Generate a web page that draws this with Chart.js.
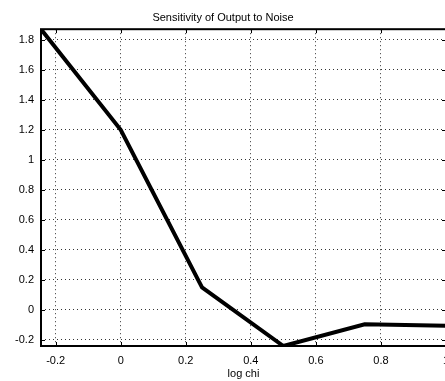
<!DOCTYPE html>
<html>
<head>
<meta charset="utf-8">
<script src="https://cdn.jsdelivr.net/npm/chart.js@4/dist/chart.umd.min.js"></script>
<style>
  html, body { margin: 0; padding: 0; background: #fff; overflow: hidden; }
  #wrap { width: 445px; height: 381px; overflow: hidden; }
</style>
</head>
<body>
<div id="wrap"><canvas id="myChart" width="470" height="381"></canvas></div>
<script>
// values
const logChi = [-0.245, 0, 0.25, 0.5, 0.75, 1.0];
const sensitivity = [1.87, 1.2, 0.15, -0.24, -0.095, -0.105];

const xMin = -0.245, xMax = 1.0;
const yMin = -0.24, yMax = 1.87;

const fontFam = "'Liberation Sans', Arial, sans-serif";

// matlab style inward ticks + box around the axes
const boxTicks = {
  id: "boxTicks",
  afterDraw(chart) {
    const c = chart.ctx, a = chart.chartArea;
    const xs = chart.scales.x, ys = chart.scales.y;
    c.save();
    c.strokeStyle = "#000";
    c.lineWidth = 1;
    c.beginPath();
    xs.ticks.forEach((t) => {
      const px = Math.round(xs.getPixelForValue(t.value)) + 0.5;
      c.moveTo(px, a.bottom); c.lineTo(px, a.bottom - 4);
      c.moveTo(px, a.top); c.lineTo(px, a.top + 4);
    });
    ys.ticks.forEach((t) => {
      const py = Math.round(ys.getPixelForValue(t.value)) + 0.5;
      c.moveTo(a.left, py); c.lineTo(a.left + 4, py);
      c.moveTo(a.right, py); c.lineTo(a.right - 4, py);
    });
    c.stroke();
    c.lineWidth = 2;
    c.strokeRect(a.left, a.top, a.right - a.left, a.bottom - a.top);
    c.restore();
  },
};

const ctx = document.getElementById("myChart").getContext("2d");
const myChart = new Chart(ctx, {
  type: "line",
  data: {
    datasets: [
      {
        label: "Sensitivity",
        data: logChi.map((x, i) => ({ x: x, y: sensitivity[i] })),
        borderColor: "#000",
        borderWidth: 4,
        pointRadius: 0,
        tension: 0,
        fill: false,
      },
    ],
  },
  options: {
    responsive: false,
    animation: false,
    layout: { padding: { left: 0, right: 24, top: 0, bottom: 0 } },
    plugins: {
      legend: { display: false },
      tooltip: { enabled: false },
      title: {
        display: true,
        text: "Sensitivity of Output to Noise",
        color: "#000",
        font: { family: fontFam, size: 11, weight: "normal" },
        padding: { top: 11, bottom: 5 },
      },
    },
    scales: {
      x: {
        type: "linear",
        min: xMin,
        max: xMax,
        afterFit: (s) => { s.height = 35; },
        grid: {
          color: "#333",
          lineWidth: 1,
          tickLength: 0,
          drawTicks: false,
        },
        border: { display: false, dash: [1, 3] },
        ticks: {
          stepSize: 0.2,
          includeBounds: false,
          color: "#000",
          padding: 8,
          font: { family: fontFam, size: 11 },
          callback: (v) => parseFloat(v.toFixed(2)).toString(),
        },
        title: {
          display: true,
          text: "log chi",
          color: "#000",
          padding: { top: 0, bottom: 0 },
          font: { family: fontFam, size: 11 },
        },
      },
      y: {
        min: yMin,
        max: yMax,
        afterFit: (s) => { s.width = 41; },
        grid: {
          color: "#333",
          lineWidth: 1,
          tickLength: 0,
          drawTicks: false,
        },
        border: { display: false, dash: [1, 3] },
        ticks: {
          stepSize: 0.2,
          includeBounds: false,
          color: "#000",
          padding: 7,
          font: { family: fontFam, size: 11 },
          callback: (v) => parseFloat(v.toFixed(2)).toString(),
        },
      },
    },
  },
  plugins: [boxTicks],
});
</script>
</body>
</html>
